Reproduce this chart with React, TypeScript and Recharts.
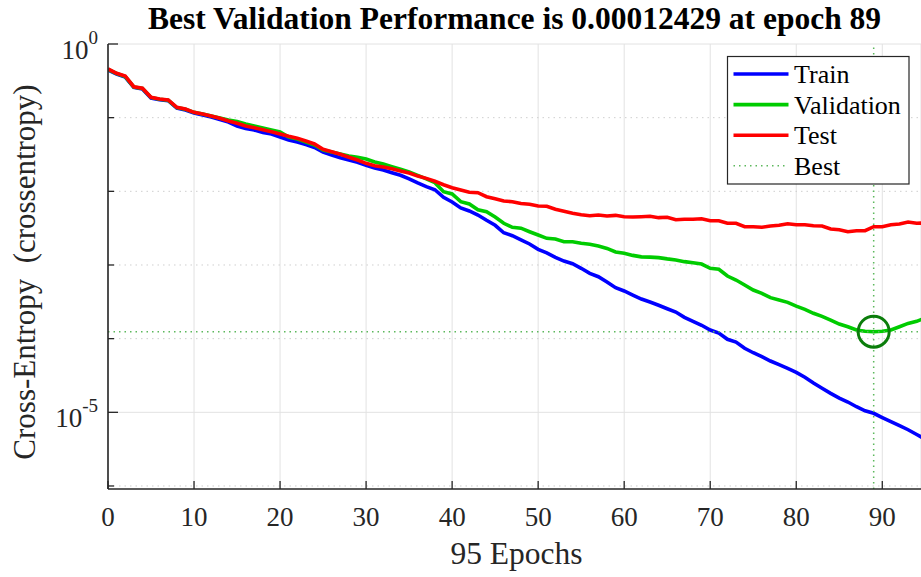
import React from "react";
import { LineChart, Line, XAxis, YAxis, CartesianGrid, ReferenceLine, ReferenceDot } from "recharts";

const FONT = "'Liberation Serif', 'Times New Roman', serif";
const INK = "#262626";

const epochs = [
  0, 1, 2, 3, 4, 5, 6, 7, 8, 9, 10, 11, 12, 13, 14, 15, 16, 17, 18, 19,
  20, 21, 22, 23, 24, 25, 26, 27, 28, 29, 30, 31, 32, 33, 34, 35, 36, 37, 38, 39,
  40, 41, 42, 43, 44, 45, 46, 47, 48, 49, 50, 51, 52, 53, 54, 55, 56, 57, 58, 59,
  60, 61, 62, 63, 64, 65, 66, 67, 68, 69, 70, 71, 72, 73, 74, 75, 76, 77, 78, 79,
  80, 81, 82, 83, 84, 85, 86, 87, 88, 89, 90, 91, 92, 93, 94, 95,
];

const train = [
  0.444, 0.392, 0.356, 0.257, 0.245, 0.185, 0.175, 0.17, 0.135, 0.127,
  0.116, 0.109, 0.102, 0.0944, 0.0873, 0.0771, 0.0713, 0.068, 0.0629, 0.06,
  0.0546, 0.0498, 0.0468, 0.0432, 0.0394, 0.0342, 0.0311, 0.0286, 0.0266, 0.0248,
  0.0225, 0.0207, 0.0195, 0.0179, 0.0165, 0.0148, 0.013, 0.0116, 0.0105, 0.0083,
  0.00716, 0.00594, 0.00541, 0.00477, 0.00404, 0.00346, 0.00274, 0.0025, 0.0022, 0.00193,
  0.00163, 0.00146, 0.00127, 0.00113, 0.00104, 0.000902, 0.000771, 0.000693, 0.000588, 0.000492,
  0.000444, 0.000391, 0.000345, 0.000314, 0.000284, 0.000255, 0.00023, 0.000195, 0.000172, 0.000152,
  0.000131, 0.000119, 0.000098, 0.00009, 0.000074, 0.0000644, 0.0000569, 0.0000497, 0.0000443, 0.0000395,
  0.0000349, 0.0000299, 0.000025, 0.0000212, 0.0000181, 0.0000156, 0.0000138, 0.0000119, 0.0000105, 0.0000097,
  0.0000085, 0.0000075, 0.0000066, 0.0000058, 0.000005, 0.0000043,
];

const validation = [
  0.451, 0.398, 0.362, 0.261, 0.249, 0.188, 0.178, 0.172, 0.137, 0.13,
  0.118, 0.112, 0.105, 0.0989, 0.0929, 0.0887, 0.082, 0.0771, 0.0724, 0.068,
  0.0639, 0.0546, 0.0513, 0.0468, 0.0426, 0.0364, 0.0342, 0.0321, 0.0302, 0.029,
  0.0275, 0.025, 0.0235, 0.0216, 0.0199, 0.0183, 0.0165, 0.0148, 0.0131, 0.00989,
  0.0092, 0.00723, 0.00673, 0.00562, 0.00528, 0.00448, 0.00368, 0.00325, 0.00316, 0.00283,
  0.00255, 0.0023, 0.00225, 0.00207, 0.00207, 0.00197, 0.00191, 0.00181, 0.00168, 0.0015,
  0.00144, 0.00135, 0.00129, 0.00128, 0.00126, 0.00121, 0.00117, 0.00111, 0.00107, 0.00103,
  0.000902, 0.000873, 0.000708, 0.000625, 0.000535, 0.000457, 0.000413, 0.00036, 0.000335, 0.000311,
  0.000277, 0.00025, 0.000221, 0.000201, 0.000179, 0.000158, 0.000145, 0.000131, 0.000126, 0.00012429,
  0.000126, 0.000131, 0.000145, 0.000161, 0.000172, 0.000191,
];

const test = [
  0.458, 0.4, 0.368, 0.263, 0.2505, 0.189, 0.179, 0.174, 0.138, 0.131,
  0.118, 0.112, 0.105, 0.098, 0.0901, 0.0838, 0.0771, 0.0731, 0.0687, 0.0645,
  0.06, 0.0558, 0.0525, 0.0482, 0.0439, 0.0372, 0.0345, 0.0318, 0.029, 0.0266,
  0.024, 0.0223, 0.0214, 0.0203, 0.0189, 0.0177, 0.0161, 0.015, 0.0137, 0.0123,
  0.0112, 0.0104, 0.0097, 0.00957, 0.00845, 0.00794, 0.0074, 0.00723, 0.00684, 0.00667,
  0.00632, 0.00626, 0.0057, 0.00536, 0.00504, 0.00482, 0.00467, 0.00477, 0.00462, 0.00472,
  0.00452, 0.00448, 0.00452, 0.00458, 0.00439, 0.00444, 0.00412, 0.00417, 0.00417, 0.00425,
  0.00399, 0.00398, 0.00368, 0.00368, 0.00331, 0.00331, 0.00325, 0.00338, 0.00346, 0.00363,
  0.00352, 0.00352, 0.00341, 0.00338, 0.00308, 0.00301, 0.00283, 0.00292, 0.00292, 0.00331,
  0.00331, 0.00352, 0.0036, 0.00383, 0.00368, 0.00372,
];

const bestEpoch = 89;
const bestValue = 0.00012429;

const xTicks = [0, 10, 20, 30, 40, 50, 60, 70, 80, 90];
const yTicks = [1e-6, 1e-5, 1e-4, 1e-3, 1e-2, 1e-1, 1];
const yMajor: Record<string, string> = { "1": "0", "0.00001": "-5" };

const legendItems = [
  { name: "Train", color: "#0000ff", dotted: false },
  { name: "Validation", color: "#00cc00", dotted: false },
  { name: "Test", color: "#ff0000", dotted: false },
  { name: "Best", color: "#5cb85c", dotted: true },
];

const data = epochs.map((e, i) => ({
  epoch: e,
  train: train[i],
  validation: validation[i],
  test: test[i],
}));

const XTick = (props: any) => {
  const { x, y, payload } = props;
  return (
    <g>
      <line x1={x} x2={x} y1={y} y2={y - 8} stroke={INK} strokeWidth={1.3} />
      <text x={x} y={y + 37} textAnchor="middle" fontSize={27} fill={INK} fontFamily={FONT}>
        {payload.value}
      </text>
    </g>
  );
};

const YTick = (props: any) => {
  const { x, y, payload } = props;
  const sup = yMajor[String(payload.value)];
  return (
    <g>
      <line x1={x} x2={x + (sup ? 10 : 6)} y1={y} y2={y} stroke={INK} strokeWidth={1.3} />
      {sup && (
        <text x={x - 10} y={y + 15} textAnchor="end" fontSize={27} fill={INK} fontFamily={FONT}>
          10
          <tspan fontSize={19} dy={-15.5}>
            {sup}
          </tspan>
        </text>
      )}
    </g>
  );
};

export default function App() {
  return (
    <div style={{ position: "absolute", left: 0, top: 0, width: 921, height: 577, background: "#fff" }}>
      <LineChart width={921} height={577} data={data} margin={{ top: 44, right: 0, bottom: 0, left: 0 }}>
        <CartesianGrid horizontal={false} stroke="#e2e2e2" strokeWidth={1} />
        {yTicks.map((v) => (
          <ReferenceLine
            key={v}
            y={v}
            stroke={yMajor[String(v)] ? "#e2e2e2" : "#cfcfcf"}
            strokeDasharray={yMajor[String(v)] ? undefined : "1.5 4"}
            strokeWidth={1}
          />
        ))}
        <XAxis
          dataKey="epoch"
          type="number"
          domain={[0, 94.5]}
          allowDataOverflow
          ticks={xTicks}
          height={88}
          tickSize={0}
          tickMargin={0}
          tick={<XTick />}
          axisLine={{ stroke: INK, strokeWidth: 1.6 }}
        />
        <YAxis
          scale="log"
          type="number"
          domain={[9.1e-7, 1]}
          allowDataOverflow
          ticks={yTicks}
          width={108}
          tickSize={0}
          tickMargin={0}
          tick={<YTick />}
          interval={0}
          axisLine={{ stroke: INK, strokeWidth: 1.6 }}
        />
        <Line dataKey="train" stroke="#0000ff" strokeWidth={3.6} dot={false} isAnimationActive={false} />
        <Line dataKey="validation" stroke="#00cc00" strokeWidth={3.6} dot={false} isAnimationActive={false} />
        <Line dataKey="test" stroke="#ff0000" strokeWidth={3.6} dot={false} isAnimationActive={false} />
        <ReferenceLine x={bestEpoch} stroke="#5cb85c" strokeDasharray="1.5 4" strokeWidth={1.5} />
        <ReferenceLine y={bestValue} stroke="#5cb85c" strokeDasharray="1.5 4" strokeWidth={1.5} />
        <ReferenceDot x={bestEpoch} y={bestValue} r={15.5} fill="none" stroke="#0b7d0b" strokeWidth={3} />
      </LineChart>
      <svg
        width={921}
        height={577}
        style={{ position: "absolute", left: 0, top: 0, pointerEvents: "none" }}
      >
        <text x={514.5} y={28.5} textAnchor="middle" fontSize={31.5} fontWeight="bold" fill="#000" fontFamily={FONT}>
          Best Validation Performance is 0.00012429 at epoch 89
        </text>
        <text x={516.5} y={564} textAnchor="middle" fontSize={31.5} fill={INK} fontFamily={FONT}>
          95 Epochs
        </text>
        <text
          x={35}
          y={272}
          textAnchor="middle"
          fontSize={31}
          fill={INK}
          fontFamily={FONT}
          transform="rotate(-90, 35, 272)"
          style={{ whiteSpace: "pre" }}
        >
          {"Cross-Entropy  (crossentropy)"}
        </text>
        <g>
          <rect x={727.5} y={56.5} width={181.5} height={127.5} fill="#fff" stroke={INK} strokeWidth={1.2} />
          {legendItems.map((it, i) => {
            const cy = 74 + i * 30.6;
            return (
              <g key={it.name}>
                <line
                  x1={733.5}
                  x2={788.5}
                  y1={cy}
                  y2={cy}
                  stroke={it.color}
                  strokeWidth={it.dotted ? 1.5 : 3.6}
                  strokeDasharray={it.dotted ? "1.5 4" : undefined}
                />
                <text x={794} y={cy + 9} fontSize={26} fill="#000" fontFamily={FONT}>
                  {it.name}
                </text>
              </g>
            );
          })}
        </g>
      </svg>
    </div>
  );
}
